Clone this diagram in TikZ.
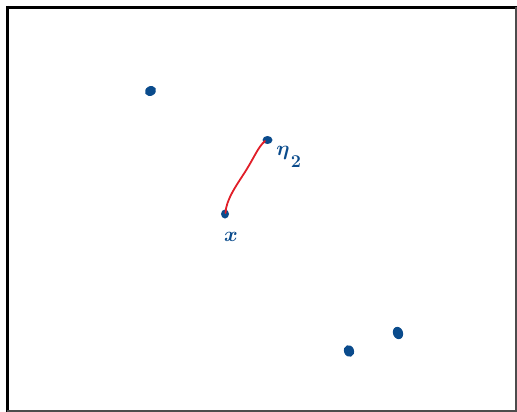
\documentclass[tikz,border=0pt]{standalone}
\usepackage{tikz}
\definecolor{inkblue}{RGB}{10,75,140}
\definecolor{inkred}{RGB}{225,30,40}
\tikzset{
  dotmark/.style={fill=inkblue, draw=none},
  lbl/.style={text=inkblue, inner sep=0pt, font=\fontsize{21}{21}\selectfont\boldmath},
}
\begin{document}
\begin{tikzpicture}[x=1pt,y=-1pt]
\useasboundingbox (0,0) rectangle (517,412);
\fill[white] (0,0) rectangle (517,412);
% frame
\draw[black, line width=3pt] (6,7.5) -- (517,7.5);
\draw[black, line width=3pt] (7.5,6) -- (7.5,412);
\draw[black!70, line width=2pt] (7,410.5) -- (517,410.5);
\draw[black!70, line width=1.5pt] (516,7) -- (516,411);
% dots
\fill[dotmark, rotate around={30:(150.5,91)}] (150.5,91) ellipse (5.8 and 4.8);
\fill[dotmark] (267.5,140) ellipse (5 and 4);
\fill[dotmark] (225,214) ellipse (4 and 4.5);
\fill[dotmark, rotate around={20:(349,351)}] (349,351) ellipse (5 and 6);
\fill[dotmark, rotate around={20:(398,333)}] (398,333) ellipse (5 and 6.3);
\coordinate (x) at (225.5,213);
\coordinate (eta) at (265,141);
% red curve
\draw[inkred, line width=1.8pt, line cap=round] (x) .. controls (226,200) and (236,186) .. (245,172) .. controls (254,158) and (258,147) .. (eta);
% labels
\node[lbl] (leta) at (283,153) {$\eta$};
\node[lbl, font=\fontsize{18}{18}\selectfont\bfseries] (ltwo) at (296,162) {2};
\node[lbl] (lx) at (231,237) {$x$};
\end{tikzpicture}
\end{document}
